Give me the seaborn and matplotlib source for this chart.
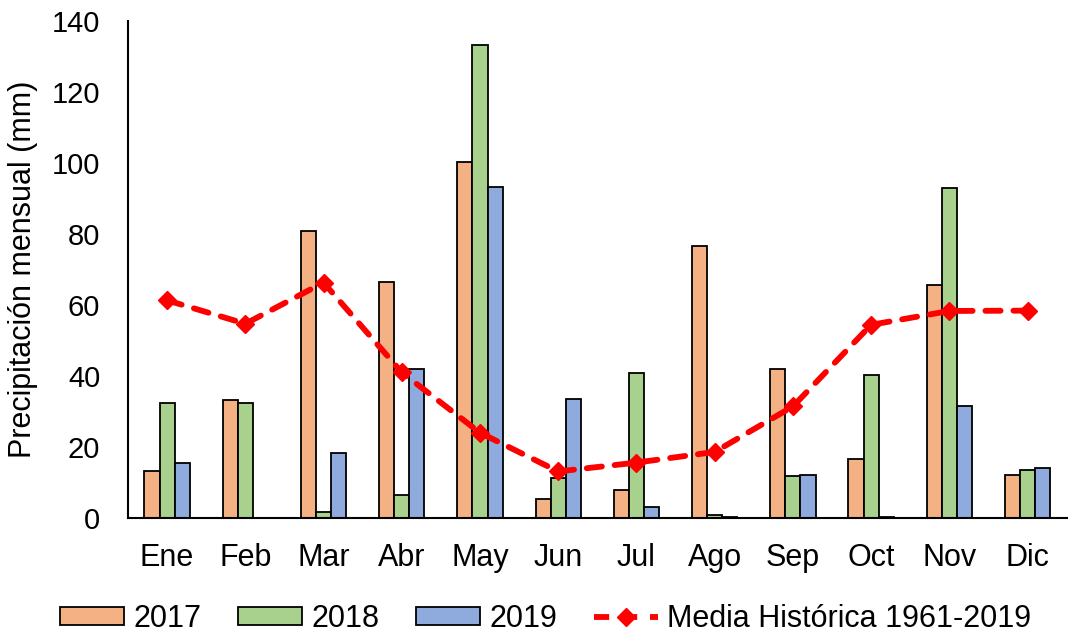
import pandas as pd
import seaborn as sns
import matplotlib.pyplot as plt
from matplotlib.patches import Patch
from matplotlib.lines import Line2D

# monthly precipitation (mm)
months = ['Ene', 'Feb', 'Mar', 'Abr', 'May', 'Jun', 'Jul', 'Ago', 'Sep', 'Oct', 'Nov', 'Dic']
years = ['2017', '2018', '2019']
p2017 = [13.2, 33.3, 80.8, 66.5, 100.3, 5.3, 7.9, 76.6, 42.0, 16.6, 65.6, 12.1]
p2018 = [32.3, 32.3, 1.7, 6.6, 133.2, 11.2, 40.8, 0.8, 11.8, 40.4, 93.0, 13.6]
p2019 = [15.6, 0.0, 18.3, 42.0, 93.2, 33.5, 3.0, 0.3, 12.1, 0.3, 31.5, 14.2]
media_historica = [61.3, 54.7, 66.3, 41.0, 24.0, 13.1, 15.6, 18.6, 31.4, 54.4, 58.3, 58.4]
hist_label = 'Media Histórica 1961-2019'

colors = ['#F4B183', '#A9D18E', '#8FAADC']

# long format table for seaborn
df = pd.DataFrame({
    'mes': months * 3,
    'anio': [y for y in years for _ in months],
    'mm': p2017 + p2018 + p2019,
})

sns.set_style('white')
plt.rcParams['font.family'] = ['Liberation Sans', 'DejaVu Sans']
plt.rcParams['text.color'] = 'black'
plt.rcParams['axes.labelcolor'] = 'black'
plt.rcParams['xtick.color'] = 'black'
plt.rcParams['ytick.color'] = 'black'

fig, ax = plt.subplots(figsize=(10.72, 6.33), dpi=100)
fig.subplots_adjust(left=0.1194, right=0.995, top=0.967, bottom=0.1817)

sns.barplot(data=df, x='mes', y='mm', hue='anio', order=months, hue_order=years,
            palette=colors, width=0.58, edgecolor='black', linewidth=1.3,
            ax=ax, legend=False, saturation=1)

ax.plot(range(len(months)), media_historica, color='#FF0000', linestyle=(0, (2.6, 2.2)),
        linewidth=4.2, marker='D', markersize=9, dash_capstyle='round', zorder=5)

ax.set_xlim(-0.5, len(months) - 0.5)
ax.set_ylim(0, 140)
ax.set_yticks(range(0, 141, 20))
ax.set_xlabel('')
ax.set_ylabel('Precipitación mensual (mm)', fontsize=22, labelpad=10)

# tick marks between categories on x, labels centered
ax.set_xticks([i - 0.5 for i in range(len(months) + 1)], minor=True)
ax.tick_params(axis='x', which='major', length=0, labelsize=22, pad=18)
ax.tick_params(axis='x', which='minor', length=7, width=1.3, direction='out')
ax.tick_params(axis='y', length=5, width=1.3, labelsize=21, direction='out', pad=15)

for side in ['top', 'right']:
    ax.spines[side].set_visible(False)
for side in ['left', 'bottom']:
    ax.spines[side].set_linewidth(1.5)
    ax.spines[side].set_color('black')

handles = [Patch(facecolor=c, edgecolor='black', linewidth=1.3, label=y) for c, y in zip(colors, years)]
handles.append(Line2D([0], [0], color='#FF0000', linestyle=(0, (2.6, 2.2)), linewidth=4.2,
                      marker='D', markersize=9, label=hist_label))
fig.legend(handles=handles, loc='lower center', ncol=4, frameon=False, fontsize=22,
           bbox_to_anchor=(0.509, -0.045), handlelength=2.1, handleheight=0.5,
           columnspacing=1.2, handletextpad=0.3)

fig.savefig('out.png', dpi=100)
